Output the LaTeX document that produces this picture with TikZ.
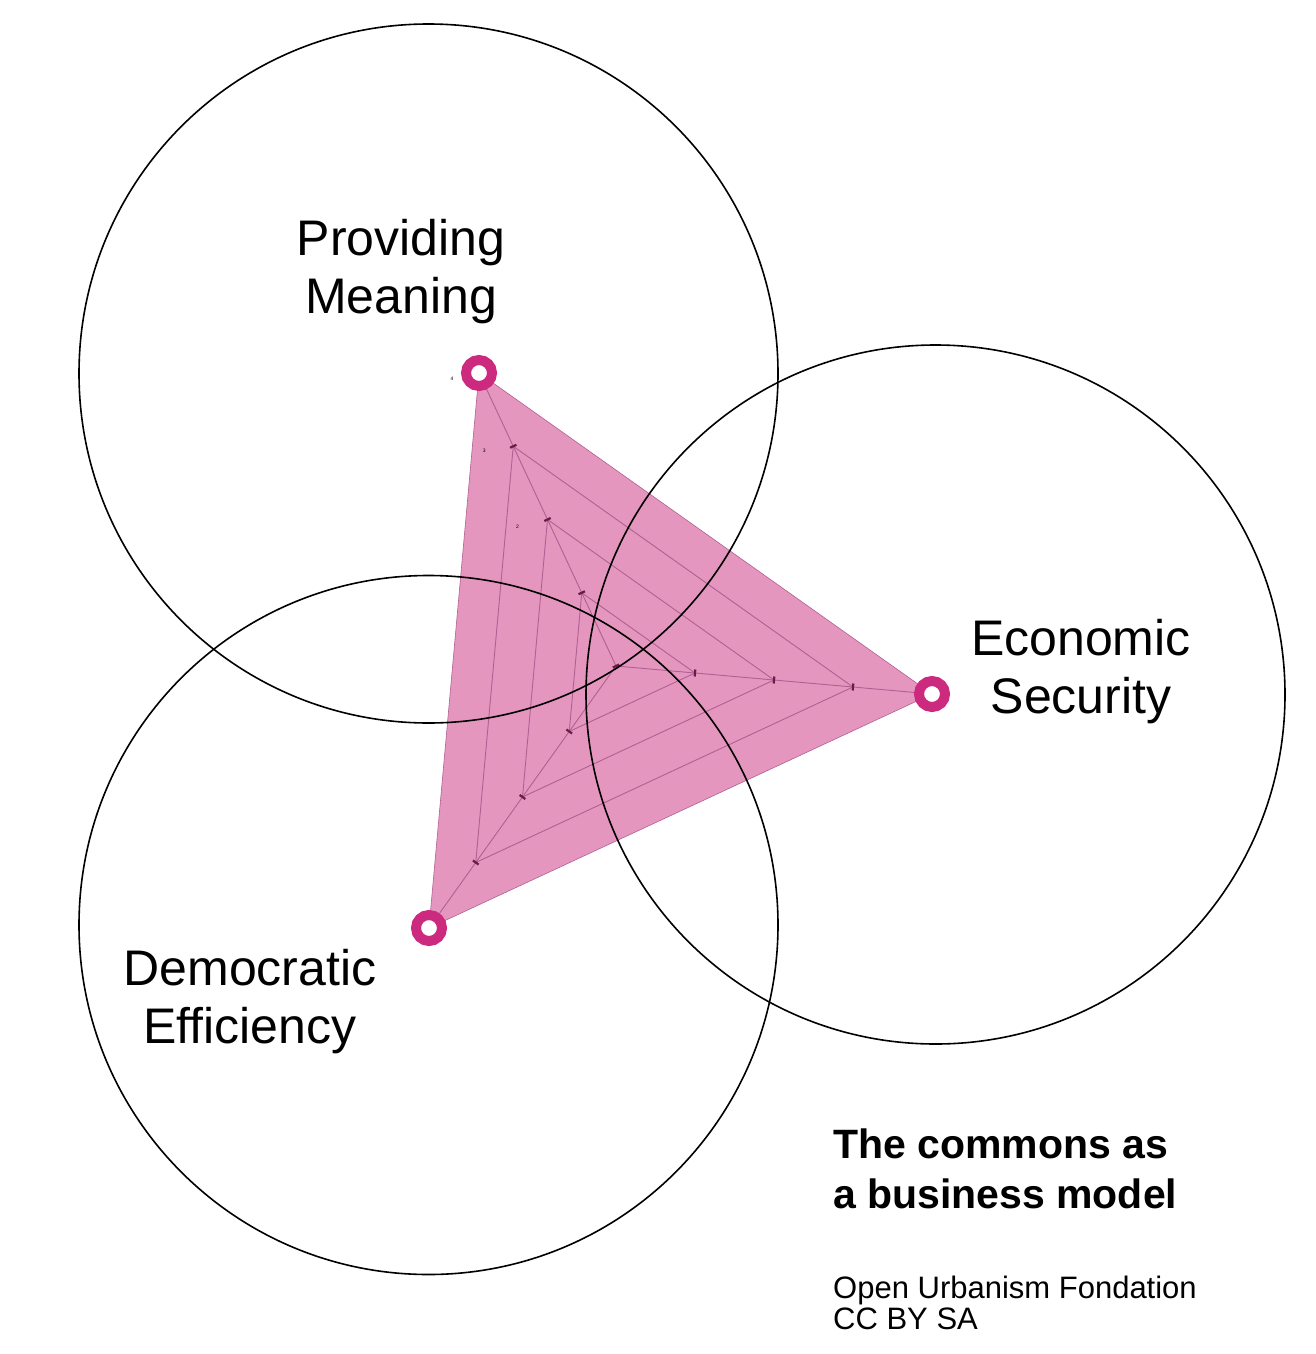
\documentclass[tikz,border=0pt]{standalone}
\usepackage{fontspec}
\setmainfont{Liberation Sans}
\usetikzlibrary{positioning,calc}
\definecolor{radar}{RGB}{204,42,126}
\definecolor{radarfill}{RGB}{229,150,190}
\definecolor{gridc}{RGB}{176,96,146}
\definecolor{tickc}{RGB}{110,25,70}

\begin{document}
\begin{tikzpicture}[
  x=1pt,y=-1pt,
  zone/.style={circle,draw=black,line width=1.6pt,minimum size=699pt,inner sep=0pt},
  ring/.style={circle,draw=radar,line width=10pt,fill=white,minimum size=26pt,inner sep=0pt},
  axislbl/.style={align=center,font=\fontsize{50}{58}\selectfont},
  gridl/.style={draw=gridc,line width=0.9pt},
  tickmark/.style={draw=tickc,line width=2.2pt},
  ticklbl/.style={font=\fontsize{5}{6}\selectfont,inner sep=0pt}
]
\useasboundingbox (0,0) rectangle (1316,1354);
% radar axes
\coordinate (c) at (616,666);
\coordinate (pm) at (479,373);
\coordinate (es) at (932,694);
\coordinate (de) at (429,928);
\fill[radarfill,draw=gridc,line width=0.6pt] (pm) -- (es) -- (de) -- cycle;
\foreach \k in {1,2,3}
  \draw[gridl] ($(c)!\k/4!(pm)$) -- ($(c)!\k/4!(es)$) -- ($(c)!\k/4!(de)$) -- cycle;
\draw[gridl] (c) -- (pm);
\draw[gridl] (c) -- (es);
\draw[gridl] (c) -- (de);
% ticks
\draw[tickmark] ($(c)!3.5pt!90:(pm)$) -- ($(c)!3.5pt!-90:(pm)$);
\foreach \k in {1,2,3}{
  \draw[tickmark] ($($(c)!\k/4!(pm)$)!3.5pt!90:(pm)$) -- ($($(c)!\k/4!(pm)$)!3.5pt!-90:(pm)$);
  \draw[tickmark] ($($(c)!\k/4!(es)$)!3.5pt!90:(es)$) -- ($($(c)!\k/4!(es)$)!3.5pt!-90:(es)$);
  \draw[tickmark] ($($(c)!\k/4!(de)$)!3.5pt!90:(de)$) -- ($($(c)!\k/4!(de)$)!3.5pt!-90:(de)$);
}
\node[ticklbl] (l4) at ($(pm)+(-27,6)$) {4};
\node[ticklbl] (l3) at ($(c)!3/4!(pm)+(-29,5)$) {3};
\node[ticklbl] (l2) at ($(c)!2/4!(pm)+(-30,7)$) {2};
% the three circles
\node[zone] (cPM) at (428.5,373.5) {};
\node[zone] (cES) at (935.5,694.5) {};
\node[zone] (cDE) at (428.5,925) {};
% markers
\node[ring] (mPM) at (pm) {};
\node[ring] (mES) at (es) {};
\node[ring] (mDE) at (de) {};
% labels
\node[axislbl] (tPM) at (401,272) {Providing\\Meaning};
\node[axislbl] (tES) at (1081,672) {Economic\\Security};
\node[axislbl] (tDE) at (250,1002) {Democratic\\Efficiency};
\node[anchor=north west,inner sep=0pt,align=left,font=\bfseries\fontsize{41}{50}\selectfont] (title) at (833,1129) {The commons as\\a business model};
\node[anchor=north west,inner sep=0pt,align=left,font=\fontsize{31}{31}\selectfont] (credit) at (833,1276) {Open Urbanism Fondation\\CC BY SA};
\end{tikzpicture}
\end{document}
